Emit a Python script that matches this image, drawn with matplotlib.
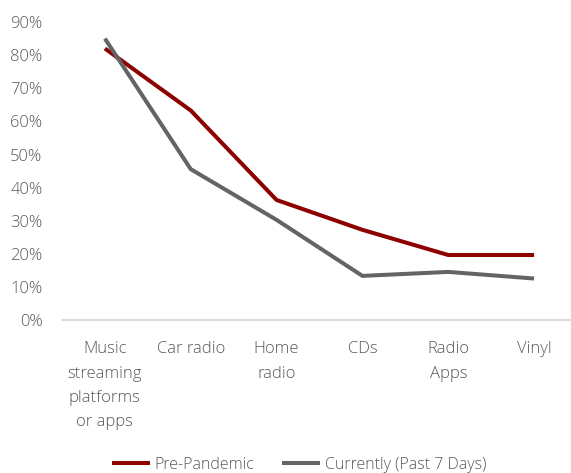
import matplotlib
matplotlib.use("Agg")
import matplotlib.pyplot as plt
from matplotlib.ticker import PercentFormatter

plt.rcParams['font.family'] = ['Open Sans', 'DejaVu Sans']
plt.rcParams['font.weight'] = 'light'

categories = ["Music\nstreaming\nplatforms\nor apps", "Car radio", "Home\nradio",
              "CDs", "Radio\nApps", "Vinyl"]
pre_pandemic = [0.82, 0.633, 0.363, 0.273, 0.197, 0.197]
currently = [0.85, 0.456, 0.303, 0.134, 0.146, 0.126]

red = "#8C0000"
grey = "#646464"
text_grey = "#595959"

W, H = 571, 473
fig = plt.figure(figsize=(W / 100, H / 100), dpi=100)
ax = fig.add_axes([62 / W, 152.7 / H, (577 - 62) / W, (451 - 152.7) / H])

x = list(range(len(categories)))
ax.plot(x, pre_pandemic, color=red, lw=2.9, label="Pre-Pandemic",
        solid_joinstyle="round", solid_capstyle="butt")
ax.plot(x, currently, color=grey, lw=2.9, label="Currently (Past 7 Days)",
        solid_joinstyle="round", solid_capstyle="butt")

ax.set_xlim(-0.5, len(categories) - 0.5)
ax.set_ylim(0, 0.9)
ax.set_yticks([i / 10 for i in range(10)])
ax.yaxis.set_major_formatter(PercentFormatter(1.0, decimals=0))
ax.set_xticks(x)
ax.set_xticklabels(categories, linespacing=1.7, va="top")

for side in ["top", "right", "left"]:
    ax.spines[side].set_visible(False)
ax.spines["bottom"].set_color("#D9D9D9")
ax.spines["bottom"].set_linewidth(1.3)

ax.tick_params(axis="both", length=0, labelsize=12, colors=text_grey)
ax.tick_params(axis="y", pad=14)
ax.tick_params(axis="x", pad=15)

fig.legend(loc="center", bbox_to_anchor=(299 / W, 1 - 465 / H), ncol=2,
           frameon=False, fontsize=11.5, labelcolor=text_grey,
           handlelength=2.4, handletextpad=0.3, columnspacing=1.7)

fig.savefig("out.png", dpi=100)
